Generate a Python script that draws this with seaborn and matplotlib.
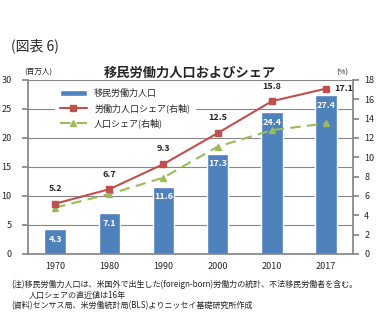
import matplotlib
matplotlib.use("Agg")
import matplotlib.pyplot as plt
import seaborn as sns
import pandas as pd
import numpy as np

years = ["1970", "1980", "1990", "2000", "2010", "2017"]
labor_pop = [4.3, 7.1, 11.6, 17.3, 24.4, 27.4]
labor_share = [5.2, 6.7, 9.3, 12.5, 15.8, 17.1]
pop_share = [4.8, 6.2, 7.9, 11.1, 12.8, 13.5]

sns.set_theme(style="white")
plt.rcParams['font.family'] = ['Noto Sans CJK JP', 'DejaVu Sans']

df = pd.DataFrame({"year": years, "labor": labor_pop, "lshare": labor_share, "pshare": pop_share})

fig = plt.figure(figsize=(3.8, 3.29), dpi=100)
ax = fig.add_axes([0.074, 0.228, 0.855, 0.529])
ax2 = ax.twinx()

ax.set_axisbelow(True)
ax.yaxis.grid(True, color="#868686", linewidth=0.8)
sns.barplot(data=df, x="year", y="labor", color="#4F81BD", width=0.4, saturation=1,
            ax=ax, label="移民労働力人口", zorder=2)
ax.set_ylim(0, 30)
ax.set_yticks(np.arange(0, 31, 5))
ax.set_xlim(-0.5, 5.5)
ax.set_xlabel("")
ax.set_ylabel("")
for i, v in enumerate(labor_pop):
    ax.text(i, v - 1.0, f"{v}", ha="center", va="top", color="white",
            fontsize=6.5, fontweight="bold", zorder=3)

x = np.arange(len(years))
ax2.plot(x, labor_share, color="#C0504D", marker="s", markersize=5, linewidth=1.5,
         label="労働力人口シェア(右軸)", zorder=4)
ax2.plot(x, pop_share, color="#9BBB59", marker="^", markersize=5, linewidth=1.5,
         linestyle=(0, (5, 3)), label="人口シェア(右軸)", zorder=3)
ax2.set_ylim(0, 18)
ax2.set_yticks(np.arange(0, 19, 2))
for i, v in enumerate(labor_share):
    if i == 5:
        ax2.text(i + 0.15, v, f"{v}", ha="left", va="center", fontsize=6.5, fontweight="bold")
    else:
        ax2.text(i, v + 1.1, f"{v}", ha="center", va="bottom", fontsize=6.5, fontweight="bold")

for a in (ax, ax2):
    for s in a.spines.values():
        s.set_visible(False)
    a.tick_params(labelsize=6.5, length=0, pad=3)
ax.spines["left"].set_visible(True)
ax.spines["left"].set_color("#868686")
ax.spines["bottom"].set_visible(True)
ax.spines["bottom"].set_color("#868686")
ax2.spines["right"].set_visible(True)
ax2.spines["right"].set_color("#868686")
ax.tick_params(axis="y", length=4, color="#868686", direction="out", pad=8)
ax2.tick_params(axis="y", length=4, color="#868686", direction="out", pad=4)
ax.set_xticks(np.arange(-0.5, 6, 1), minor=True)
ax.tick_params(axis="x", which="minor", length=4, color="#868686", direction="out")
ax.tick_params(axis="x", which="major", pad=6)

h1, l1 = ax.get_legend_handles_labels()
h2, l2 = ax2.get_legend_handles_labels()
leg = ax.legend(h1 + h2, l1 + l2, loc="upper left", bbox_to_anchor=(0.07, 1.0),
                fontsize=6.5, frameon=True, framealpha=1, edgecolor="white",
                fancybox=False, handlelength=3, borderpad=0.5, labelspacing=0.6)
leg.set_zorder(10)

fig.text(0.03, 0.86, "(図表 6)", fontsize=10, ha="left", va="center")
fig.text(0.5, 0.78, "移民労働力人口およびシェア", fontsize=9.5, fontweight="bold", ha="center", va="center")
fig.text(0.065, 0.782, "(百万人)", fontsize=5.5, ha="left", va="center")
fig.text(0.9, 0.78, "(%)", fontsize=5.5, ha="center", va="center")

fig.text(0.03, 0.135, "(注)移民労働力人口は、米国外で出生した(foreign-born)労働力の統計、不法移民労働者を含む。",
         fontsize=5.8, ha="left", va="center")
fig.text(0.075, 0.102, "人口シェアの直近値は16年", fontsize=5.8, ha="left", va="center")
fig.text(0.03, 0.07, "(資料)センサス局、米労働統計局(BLS)よりニッセイ基礎研究所作成",
         fontsize=5.8, ha="left", va="center")

fig.savefig("out.png", dpi=100)
